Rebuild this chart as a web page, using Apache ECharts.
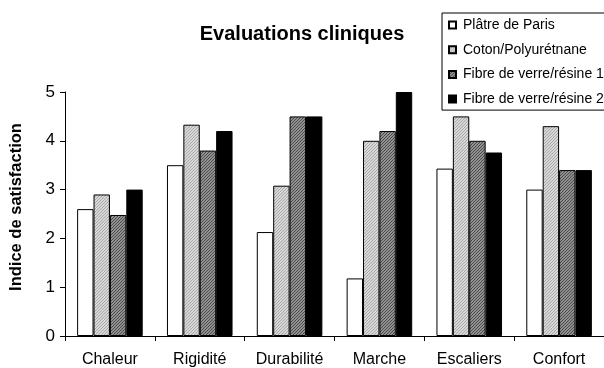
<!DOCTYPE html>
<html>
<head>
<meta charset="utf-8">
<script src="https://cdn.jsdelivr.net/npm/echarts@6/dist/echarts.min.js"></script>
<style>
html,body{margin:0;padding:0;background:#fff;}
#chart{width:604px;height:368px;}
</style>
</head>
<body>
<div id="chart"></div>
<script>
var categories = ['Chaleur', 'Rigidité', 'Durabilité', 'Marche', 'Escaliers', 'Confort'];
var seriesNames = ['Plâtre de Paris', 'Coton/Polyurétnane', 'Fibre de verre/résine 1', 'Fibre de verre/résine 2'];
var platre = [2.6, 3.5, 2.13, 1.18, 3.43, 3.0];
var coton = [2.9, 4.33, 3.08, 4.0, 4.5, 4.3];
var fibre1 = [2.48, 3.8, 4.5, 4.2, 4.0, 3.4];
var fibre2 = [3.0, 4.2, 4.5, 5.0, 3.76, 3.4];
var yTicks = [0, 1, 2, 3, 4, 5];

function hatch(bg, fg, period) {
  var c = document.createElement('canvas');
  c.width = period; c.height = period;
  var g = c.getContext('2d');
  g.fillStyle = bg; g.fillRect(0, 0, period, period);
  g.fillStyle = fg;
  for (var x = 0; x < period; x++) {
    for (var y = 0; y < period; y++) {
      if ((x + y) % period === 0) g.fillRect(x, y, 1, 1);
    }
  }
  return {image: c, repeat: 'repeat'};
}

var fills = [
  '#ffffff',
  hatch('#d8d8d8', '#a8a8a8', 3),
  hatch('#909090', '#4c4c4c', 3),
  '#000000'
];
var dataSets = [platre, coton, fibre1, fibre2];
var FONT = '"Liberation Sans", Arial, sans-serif';

var chart = echarts.init(document.getElementById('chart'), null, {renderer: 'canvas'});
chart.setOption({
  animation: false,
  backgroundColor: '#ffffff',
  title: {
    text: 'Evaluations cliniques',
    left: 'center',
    top: 19,
    textStyle: {fontFamily: FONT, fontWeight: 'bold', fontSize: 20, color: '#000'}
  },
  legend: {
    orient: 'vertical',
    left: 442,
    top: 13,
    padding: [5, 12, 4, 6],
    itemGap: 10.7,
    itemWidth: 7,
    itemHeight: 7,
    backgroundColor: '#fff',
    borderColor: '#000',
    borderWidth: 1,
    borderRadius: 0,
    textStyle: {fontFamily: FONT, fontSize: 14, color: '#000', lineHeight: 14, padding: [0, 0, 0, 2]},
    data: seriesNames.map(function (n) { return {name: n, icon: 'rect'}; })
  },
  grid: {left: 63, top: 92, bottom: 31, right: -8, containLabel: false},
  xAxis: {
    type: 'category',
    data: categories,
    axisLine: {lineStyle: {color: '#000', width: 1}},
    axisTick: {show: true, length: 5, lineStyle: {color: '#000'}},
    axisLabel: {fontFamily: FONT, fontSize: 16, color: '#000', margin: 16}
  },
  yAxis: {
    type: 'value',
    min: yTicks[0],
    max: yTicks[yTicks.length - 1],
    interval: 1,
    name: 'Indice de satisfaction',
    nameLocation: 'middle',
    nameGap: 40,
    nameRotate: 90,
    nameTextStyle: {fontFamily: FONT, fontWeight: 'bold', fontSize: 16.5, color: '#000', padding: [0, 0, 0, 14]},
    splitLine: {show: false},
    axisLine: {show: true, lineStyle: {color: '#000', width: 1}},
    axisTick: {show: true, length: 5, lineStyle: {color: '#000'}},
    axisLabel: {fontFamily: FONT, fontSize: 17, color: '#000', margin: 10}
  },
  series: seriesNames.map(function (n, i) {
    return {
      name: n,
      type: 'bar',
      data: dataSets[i],
      barGap: '0%',
      barCategoryGap: '27%',
      itemStyle: {color: fills[i], borderColor: '#000', borderWidth: 1}
    };
  })
});
</script>
</body>
</html>
